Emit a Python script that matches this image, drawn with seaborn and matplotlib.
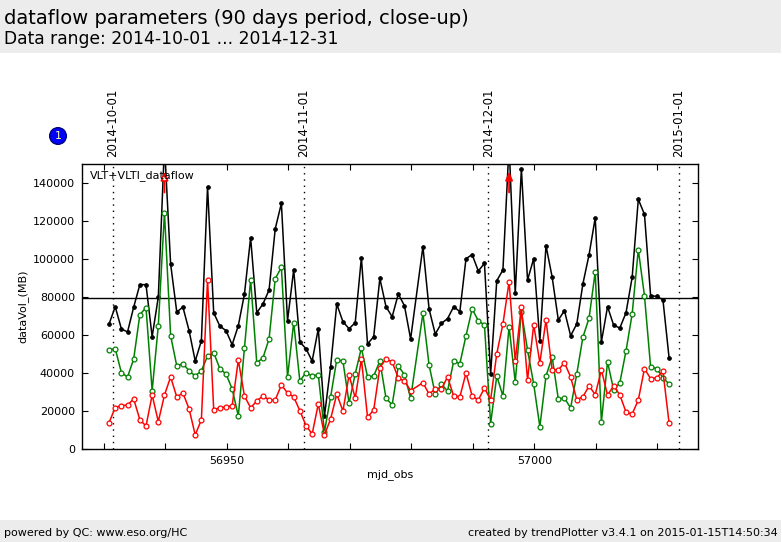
import matplotlib
matplotlib.use("Agg")
import matplotlib.pyplot as plt
from matplotlib.patches import Rectangle
import seaborn as sns

# night of observation, no data on 56980.9
mjd_obs = [56930.9, 56931.9, 56932.9, 56933.9, 56934.9, 56935.9, 56936.9, 56937.9, 56938.9, 56939.9,
           56940.9, 56941.9, 56942.9, 56943.9, 56944.9, 56945.9, 56946.9, 56947.9, 56948.9, 56949.9,
           56950.9, 56951.9, 56952.9, 56953.9, 56954.9, 56955.9, 56956.9, 56957.9, 56958.9, 56959.9,
           56960.9, 56961.9, 56962.9, 56963.9, 56964.9, 56965.9, 56966.9, 56967.9, 56968.9, 56969.9,
           56970.9, 56971.9, 56972.9, 56973.9, 56974.9, 56975.9, 56976.9, 56977.9, 56978.9, 56979.9,
           56981.9, 56982.9, 56983.9, 56984.9, 56985.9, 56986.9, 56987.9, 56988.9, 56989.9,
           56990.9, 56991.9, 56992.9, 56993.9, 56994.9, 56995.9, 56996.9, 56997.9, 56998.9, 56999.9,
           57000.9, 57001.9, 57002.9, 57003.9, 57004.9, 57005.9, 57006.9, 57007.9, 57008.9, 57009.9,
           57010.9, 57011.9, 57012.9, 57013.9, 57014.9, 57015.9, 57016.9, 57017.9, 57018.9, 57019.9,
           57020.9, 57021.9]

vlt_vlti = [65800, 74900, 63200, 61600, 74700, 86500, 86500, 59100, 80000, 160000,
            97400, 72100, 74700, 62300, 46300, 57000, 138000, 71700, 64700, 62300,
            54900, 64900, 81600, 111200, 71700, 76300, 83700, 115900, 129300, 67500,
            94400, 56300, 52800, 46300, 63300, 17400, 43300, 76300, 67000, 63300,
            66500, 100700, 55300, 59100, 89800, 74900, 69600, 81600, 75400, 57900,
            106500, 73700, 60500, 66100, 68600, 74900, 72300, 100200, 102300,
            93700, 97700, 39500, 88600, 94200, 160000, 81900, 147400, 88900, 100200,
            56800, 107000, 90500, 67900, 72800, 59600, 65800, 87000, 102300, 121700,
            56300, 74900, 65100, 63700, 71700, 90300, 131400, 123500, 80700, 80300,
            78600, 48000]

vlt = [52100, 52800, 40200, 37900, 47400, 70700, 74400, 30700, 64900, 124400,
       59700, 43700, 44900, 41200, 38400, 41200, 48900, 50700, 42300, 39500,
       31600, 17400, 53200, 89100, 45400, 47900, 58000, 89600, 95600, 37900,
       66500, 35800, 40200, 38400, 39100, 9100, 27400, 47000, 46300, 24200,
       39600, 53200, 37900, 38400, 46300, 26800, 23200, 43700, 39100, 26700,
       71400, 44200, 28900, 34200, 30500, 46300, 44900, 59600, 73700,
       67500, 65300, 13300, 38400, 27900, 64400, 35300, 72300, 52100, 34200,
       11700, 38400, 48400, 26300, 26800, 21600, 39500, 58900, 68900, 93300,
       14200, 45900, 31000, 34900, 51600, 71000, 104900, 80700, 43200, 42300,
       37500, 34200]

vlti = [13900, 21800, 22800, 23200, 26300, 15400, 12100, 28400, 14400, 28400,
        37900, 27400, 29500, 21100, 7400, 15400, 89100, 20700, 21700, 22100,
        22800, 46800, 27900, 21700, 25300, 27900, 25800, 25800, 33700, 29500,
        27400, 20200, 12300, 7900, 23700, 7400, 15800, 28900, 20000, 38900,
        26800, 47400, 16800, 20500, 42800, 47400, 45800, 37400, 35800, 30700,
        34900, 28900, 31600, 31600, 37900, 27900, 27400, 40000, 27900,
        25800, 32100, 25800, 50200, 65800, 88000, 46300, 74900, 36300, 65400,
        45400, 67900, 41600, 41600, 45400, 37900, 26000, 27500, 33200, 28600,
        41600, 28400, 33200, 28400, 19500, 18400, 25800, 42300, 37000, 37500,
        41000, 13700]

month_pos = [56931.5, 56962.5, 56992.5, 57023.5]
month_labels = ["2014-10-01", "2014-11-01", "2014-12-01", "2015-01-01"]
outlier_x = [56939.9, 56995.9]
threshold = 79500

sns.set_style("ticks")
plt.rcParams['font.family'] = ['DejaVu Sans']
plt.rcParams['text.color'] = 'black'
plt.rcParams['axes.labelcolor'] = 'black'

W, H = 782, 542
fig = plt.figure(figsize=(W / 100, H / 100), dpi=100)
ax = fig.add_axes([82 / W, 1 - 449 / H, 616 / W, 285 / H])

# grey header and footer bands
fig.add_artist(Rectangle((0, 1 - 53 / H), 781 / W, 53 / H, transform=fig.transFigure, color='#ececec', lw=0, zorder=-1))
fig.add_artist(Rectangle((0, 0), 781 / W, 22 / H, transform=fig.transFigure, color='#ececec', lw=0, zorder=-1))

sns.lineplot(x=mjd_obs, y=vlt_vlti, color='black', marker='o', ms=2.6, mfc='black', mec='black',
             lw=1.1, errorbar=None, ax=ax, zorder=3)
sns.lineplot(x=mjd_obs, y=vlt, color='green', marker='o', ms=3.5, mfc='white', mec='green', mew=0.9,
             lw=1.1, errorbar=None, ax=ax, zorder=4)
sns.lineplot(x=mjd_obs, y=vlti, color='red', marker='o', ms=3.5, mfc='white', mec='red', mew=0.9,
             lw=1.1, errorbar=None, ax=ax, zorder=5)

ax.axhline(threshold, color='black', lw=1, zorder=2)
for pos, lab in zip(month_pos, month_labels):
    ax.axvline(pos, color='black', ls=(0, (1, 3.5)), lw=1, zorder=1)
    ax.text(pos, 1.025, lab, rotation=90, ha='center', va='bottom', fontsize=8.5,
            transform=ax.get_xaxis_transform())

# outlier arrows
for x in outlier_x:
    ax.annotate("", xy=(x, 146000), xytext=(x, 135000), zorder=6,
                arrowprops=dict(arrowstyle='-|>,head_length=0.5,head_width=0.22', color='red', lw=1.3,
                                shrinkA=0, shrinkB=0))
ax.plot([outlier_x[0]], [142500], 'o', ms=3.5, mfc='white', mec='red', mew=0.9, zorder=7)

ax.set_xlim(56926.5, 57026.6)
ax.set_ylim(0, 150000)
ax.set_xticks([56930, 56940, 56950, 56960, 56970, 56980, 56990, 57000, 57010, 57020])
ax.set_xticklabels(["", "", "56950", "", "", "", "", "57000", "", ""])
ax.set_yticks([0, 20000, 40000, 60000, 80000, 100000, 120000, 140000])
ax.tick_params(axis='both', direction='in', length=4, width=0.8, top=True, right=True, labelsize=8, pad=5, colors='black')
ax.set_xlabel("mjd_obs", fontsize=8, labelpad=2)
ax.set_ylabel("dataVol_(MB)", fontsize=8, labelpad=3)
for s in ax.spines.values():
    s.set_visible(True)
    s.set_linewidth(1)
    s.set_color('black')

ax.text(90 / W, 1 - 176 / H, "VLT+VLTI_dataflow", fontsize=8, va='center', transform=fig.transFigure, zorder=8)

fig.text(58 / W, 1 - 136 / H, "1", color='#ffffaa', fontsize=8, ha='center', va='center',
         bbox=dict(boxstyle='circle,pad=0.3', fc='blue', ec='#000080', lw=1))

fig.text(4 / W, 1 - 18 / H, "dataflow parameters (90 days period, close-up)", fontsize=14, va='center')
fig.text(4 / W, 1 - 39 / H, "Data range: 2014-10-01 ... 2014-12-31", fontsize=12.3, va='center')
fig.text(4 / W, 1 - 533 / H, "powered by QC: www.eso.org/HC", fontsize=8, va='center')
fig.text(778 / W, 1 - 533 / H, "created by trendPlotter v3.4.1 on 2015-01-15T14:50:34", fontsize=8, va='center', ha='right')

fig.savefig("out.png", dpi=100)
